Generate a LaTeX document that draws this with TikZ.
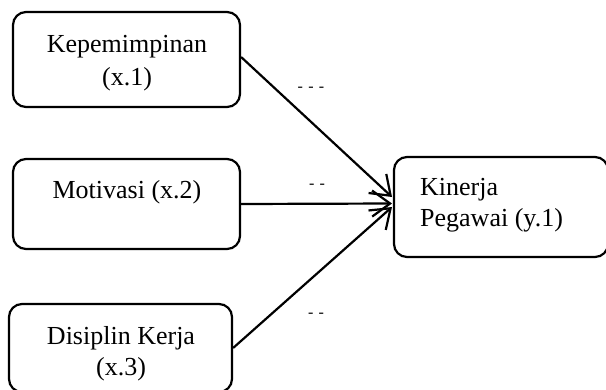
\documentclass[tikz,border=0pt]{standalone}
\usepackage{fontspec}
\setmainfont{Liberation Serif}
\usetikzlibrary{arrows.meta}
\begin{document}
\begin{tikzpicture}[x=1pt,y=-1pt,
  box/.style={draw,line width=2.2pt,rounded corners=13pt,inner sep=0pt},
  txt/.style={font=\fontsize{26}{32}\selectfont,anchor=base,inner sep=0pt},
  lab/.style={font=\fontsize{16}{18}\selectfont,inner sep=0pt},
  arr/.style={line width=2.2pt,-{Straight Barb[length=18pt,width=26pt,line width=2.2pt]}}]
\useasboundingbox (0,0) rectangle (606,389);
\clip (0,0) rectangle (606,389);
\node[box,minimum width=227pt,minimum height=95pt] (b1) at (126.5,59.5) {};
\node[box,minimum width=227pt,minimum height=90pt] (b2) at (126.5,204) {};
\node[box,minimum width=223pt,minimum height=88pt] (b3) at (120.5,348) {};
\node[box,minimum width=214pt,minimum height=100pt] (r) at (501,207) {};
\node[txt] (t1a) at (127,52) {Kepemimpinan};
\node[txt] (t1b) at (127,85) {(x.1)};
\node[txt] (t2) at (127,198) {Motivasi (x.2)};
\node[txt] (t3a) at (121,344) {Disiplin Kerja};
\node[txt] (t3b) at (121,375) {(x.3)};
\node[txt,anchor=base west] (ra) at (420,195) {Kinerja};
\node[txt,anchor=base west] (rb) at (420,226) {Pegawai (y.1)};
\coordinate (e1) at (392,197);
\coordinate (e2) at (392,203.5);
\coordinate (e3) at (392,207);
\coordinate (s1) at (b1.east |- 0,57);
\draw[arr] (s1) -- (e1);
\draw[arr] (b2.east) -- (e2);
\draw[arr] (b3.east) -- (e3);
\node[lab] (l1) at (311,89) {-\,\,-\,\,-};
\node[lab] (l2) at (317,186) {-\,\,-};
\node[lab] (l3) at (316,315) {-\,\,-};
\end{tikzpicture}
\end{document}
